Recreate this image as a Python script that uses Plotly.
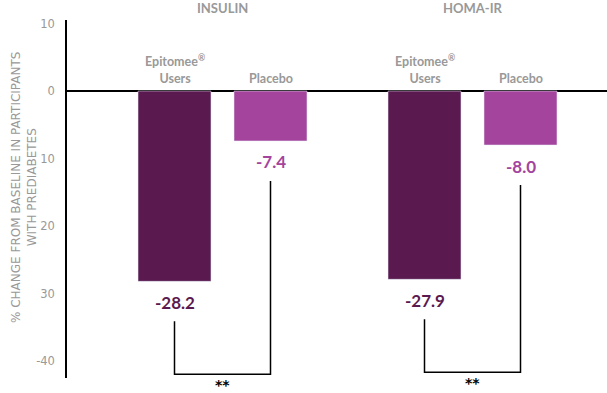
import plotly.graph_objects as go

# ---- data ----
groups = ["INSULIN", "HOMA-IR"]
series_names = ["Epitomee<sup>®</sup><br>Users", "Placebo"]
epitomee_vals = [-28.2, -27.9]
placebo_vals = [-7.4, -8.0]
value_labels_epi = ["-28.2", "-27.9"]
value_labels_plc = ["-7.4", "-8.0"]
sig_labels = ["**", "**"]
y_tickvals = [10, 0, -10, -20, -30, -40]
y_ticktext = ["10", "0", "10", "20", "30", "-40"]

# ---- style ----
C_EPI = "#5a1a50"
C_PLC = "#a4449c"
GRAY = "#999999"
HALF = 0.192          # offset of each bar centre from group centre (x units)
PX_PER_UNIT = 6.75
LABEL_GAP = 21 / PX_PER_UNIT
BRK_TOP_GAP = 40 / PX_PER_UNIT
BRK_BOTTOM_GAP = 93 / PX_PER_UNIT

xs = list(range(len(groups)))

fig = go.Figure()
fig.add_trace(go.Bar(x=xs, y=epitomee_vals, marker_color=C_EPI, name="Epitomee", hoverinfo="skip"))
fig.add_trace(go.Bar(x=xs, y=placebo_vals, marker_color=C_PLC, name="Placebo", hoverinfo="skip"))

ann = []
shapes = []
for i, g in enumerate(xs):
    xe, xp = g - HALF, g + HALF
    # group titles
    ann.append(dict(x=g, xref="x", y=1, yref="paper", yanchor="bottom", yshift=2,
                    text=groups[i], showarrow=False,
                    font=dict(family="Lato", size=13, color=GRAY, weight="bold")))
    # series headers
    for xx, nm in ((xe, series_names[0]), (xp, series_names[1])):
        ann.append(dict(x=xx, xref="x", y=0, yref="y", yanchor="bottom", yshift=3,
                        text=nm, showarrow=False,
                        font=dict(family="Lato", size=12.5, color=GRAY, weight="bold")))
    # value labels
    ann.append(dict(x=xe, y=epitomee_vals[i] - LABEL_GAP, xref="x", yref="y",
                    text=value_labels_epi[i], showarrow=False, yanchor="middle",
                    font=dict(family="Lato", size=17, color=C_EPI, weight="bold")))
    ann.append(dict(x=xp, y=placebo_vals[i] - LABEL_GAP, xref="x", yref="y",
                    text=value_labels_plc[i], showarrow=False, yanchor="middle",
                    font=dict(family="Lato", size=17, color=C_PLC, weight="bold")))
    # significance bracket
    yb = epitomee_vals[i] - BRK_BOTTOM_GAP
    path = (f"M {xe} {epitomee_vals[i] - BRK_TOP_GAP} L {xe} {yb} "
            f"L {xp} {yb} L {xp} {placebo_vals[i] - BRK_TOP_GAP}")
    shapes.append(dict(type="path", path=path, xref="x", yref="y",
                       line=dict(color="black", width=1.5)))
    ann.append(dict(x=g, y=yb, xref="x", yref="y", text=sig_labels[i], showarrow=False,
                    yanchor="top", yshift=-1,
                    font=dict(family="DejaVu Sans", size=14, color="black", weight="bold")))

# y-axis title
ann.append(dict(x=0, xref="paper", y=0.5, yref="paper", xshift=-60, yshift=11,
                text="% CHANGE FROM BASELINE IN PARTICIPANTS<br>WITH PREDIABETES",
                textangle=-90, showarrow=False,
                font=dict(family="DejaVu Sans", size=12, color=GRAY)))

fig.update_layout(
    width=607, height=393,
    margin=dict(l=67, r=0, t=20, b=15),
    paper_bgcolor="white", plot_bgcolor="white",
    barmode="group", bargap=0.232, bargroupgap=0.24,
    showlegend=False,
    annotations=ann, shapes=shapes,
    xaxis=dict(range=[-0.622, 1.538], showticklabels=False, showgrid=False,
               zeroline=False, showline=False, fixedrange=True),
    yaxis=dict(range=[-42.52, 10.52], tickvals=y_tickvals, ticktext=y_ticktext,
               showgrid=False, zeroline=True, zerolinecolor="black", zerolinewidth=1.5,
               showline=True, linecolor="black", linewidth=1.5, ticks="",
               ticklabelstandoff=8,
               tickfont=dict(family="DejaVu Sans", size=11.5, color=GRAY)),
)

fig.write_html("out.html")
